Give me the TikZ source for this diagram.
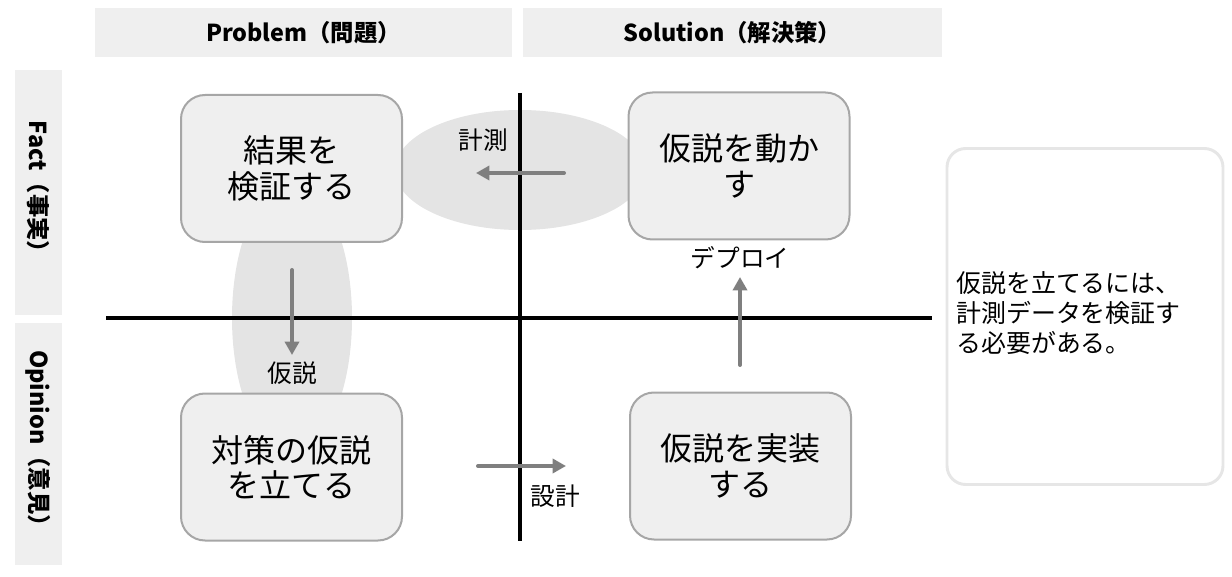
\documentclass[tikz,border=0pt]{standalone}
\usepackage{fontspec}
\setmainfont{Noto Sans CJK JP}
\usetikzlibrary{arrows.meta}
\definecolor{hdr}{HTML}{EFEFEF}
\definecolor{boxfill}{HTML}{EFEFEF}
\definecolor{boxline}{HTML}{A6A6A6}
\definecolor{ell}{HTML}{E4E4E4}
\definecolor{arr}{HTML}{7F7F7F}
\definecolor{noteline}{HTML}{E6E6E6}
\newcommand\myboxfont{\fontsize{24}{26.5}\selectfont\lineskiplimit=-100pt\relax}
\newcommand\mynotefont{\fontsize{18.7}{22.75}\selectfont\lineskiplimit=-100pt\relax}
\begin{document}
\begin{tikzpicture}[x=0.75pt,y=-0.75pt,
  hdrbox/.style={fill=hdr,inner sep=0pt,font=\bfseries\fontsize{17.5}{20}\selectfont},
  stepbox/.style={draw=boxline,line width=1.5pt,fill=boxfill,rounded corners=18pt,
    minimum width=165.75pt,minimum height=110.25pt,inner sep=0pt,align=center,
    font=\myboxfont},
  axis/.style={line width=2.6pt,black},
  flow/.style={draw=arr,line width=3pt,line cap=round,-{Triangle[length=10pt,width=10.5pt]}},
  lbl/.style={font=\fontsize{18.5}{20}\selectfont,inner sep=0pt}]
\useasboundingbox (0,0) rectangle (1232,577);
% ellipses
\fill[ell] (520,170) ellipse [x radius=125, y radius=60];
\fill[ell] (292,318) ellipse [x radius=60, y radius=135];
% headers
\node[hdrbox,minimum width=312.75pt,minimum height=36.75pt] (hP) at (303.5,32.5) {Problem（問題）};
\node[hdrbox,minimum width=314.25pt,minimum height=36.75pt] (hS) at (732.5,32.5) {Solution（解決策）};
\node[hdrbox,minimum width=35.25pt,minimum height=183.75pt] (hF) at (38.5,192.5) {};
\node[hdrbox,rotate=-90] at (hF) {Fact（事実）};
\node[hdrbox,minimum width=35.25pt,minimum height=181.5pt] (hO) at (38.5,444) {};
\node[hdrbox,rotate=-90] at (hO) {Opinion（意見）};
% axes
\coordinate (axL) at (106,318);
\coordinate (axR) at (932,318);
\coordinate (axT) at (520,93);
\coordinate (axB) at (520,541);
\draw[axis] (axL) -- (axR);
\draw[axis] (axT) -- (axB);
% boxes
\node[stepbox] (b1) at (291.5,168.5) {結果を\\検証する};
\node[stepbox] (b2) at (739,166) {仮説を動か\\す};
\node[stepbox] (b3) at (291.5,467) {対策の仮説\\を立てる};
\node[stepbox] (b4) at (740.5,466) {仮説を実装\\する};
% arrows
\coordinate (a1s) at (564,173); \coordinate (a1e) at (476,173);
\draw[flow] (a1s) -- (a1e);
\node[lbl] (l1) at (483,140) {計測};
\coordinate (a2s) at (292,270); \coordinate (a2e) at (292,355);
\draw[flow] (a2s) -- (a2e);
\node[lbl] (l2) at (292,373) {仮説};
\coordinate (a3s) at (478,466); \coordinate (a3e) at (566,466);
\draw[flow] (a3s) -- (a3e);
\node[lbl] (l3) at (555,496) {設計};
\coordinate (a4s) at (740,365); \coordinate (a4e) at (740,277);
\draw[flow] (a4s) -- (a4e);
\node[lbl] (l4) at (740,258) {デプロイ};
% note
\node[draw=noteline,line width=2.2pt,fill=white,rounded corners=14pt,
  minimum width=207pt,minimum height=252pt,inner sep=0pt] (note) at (1085,316.5) {};
\node[anchor=west,align=left,inner sep=0pt,font=\mynotefont] (nt) at (956,313)
  {仮説を立てるには、\\計測データを検証す\\る必要がある。};
\end{tikzpicture}
\end{document}
